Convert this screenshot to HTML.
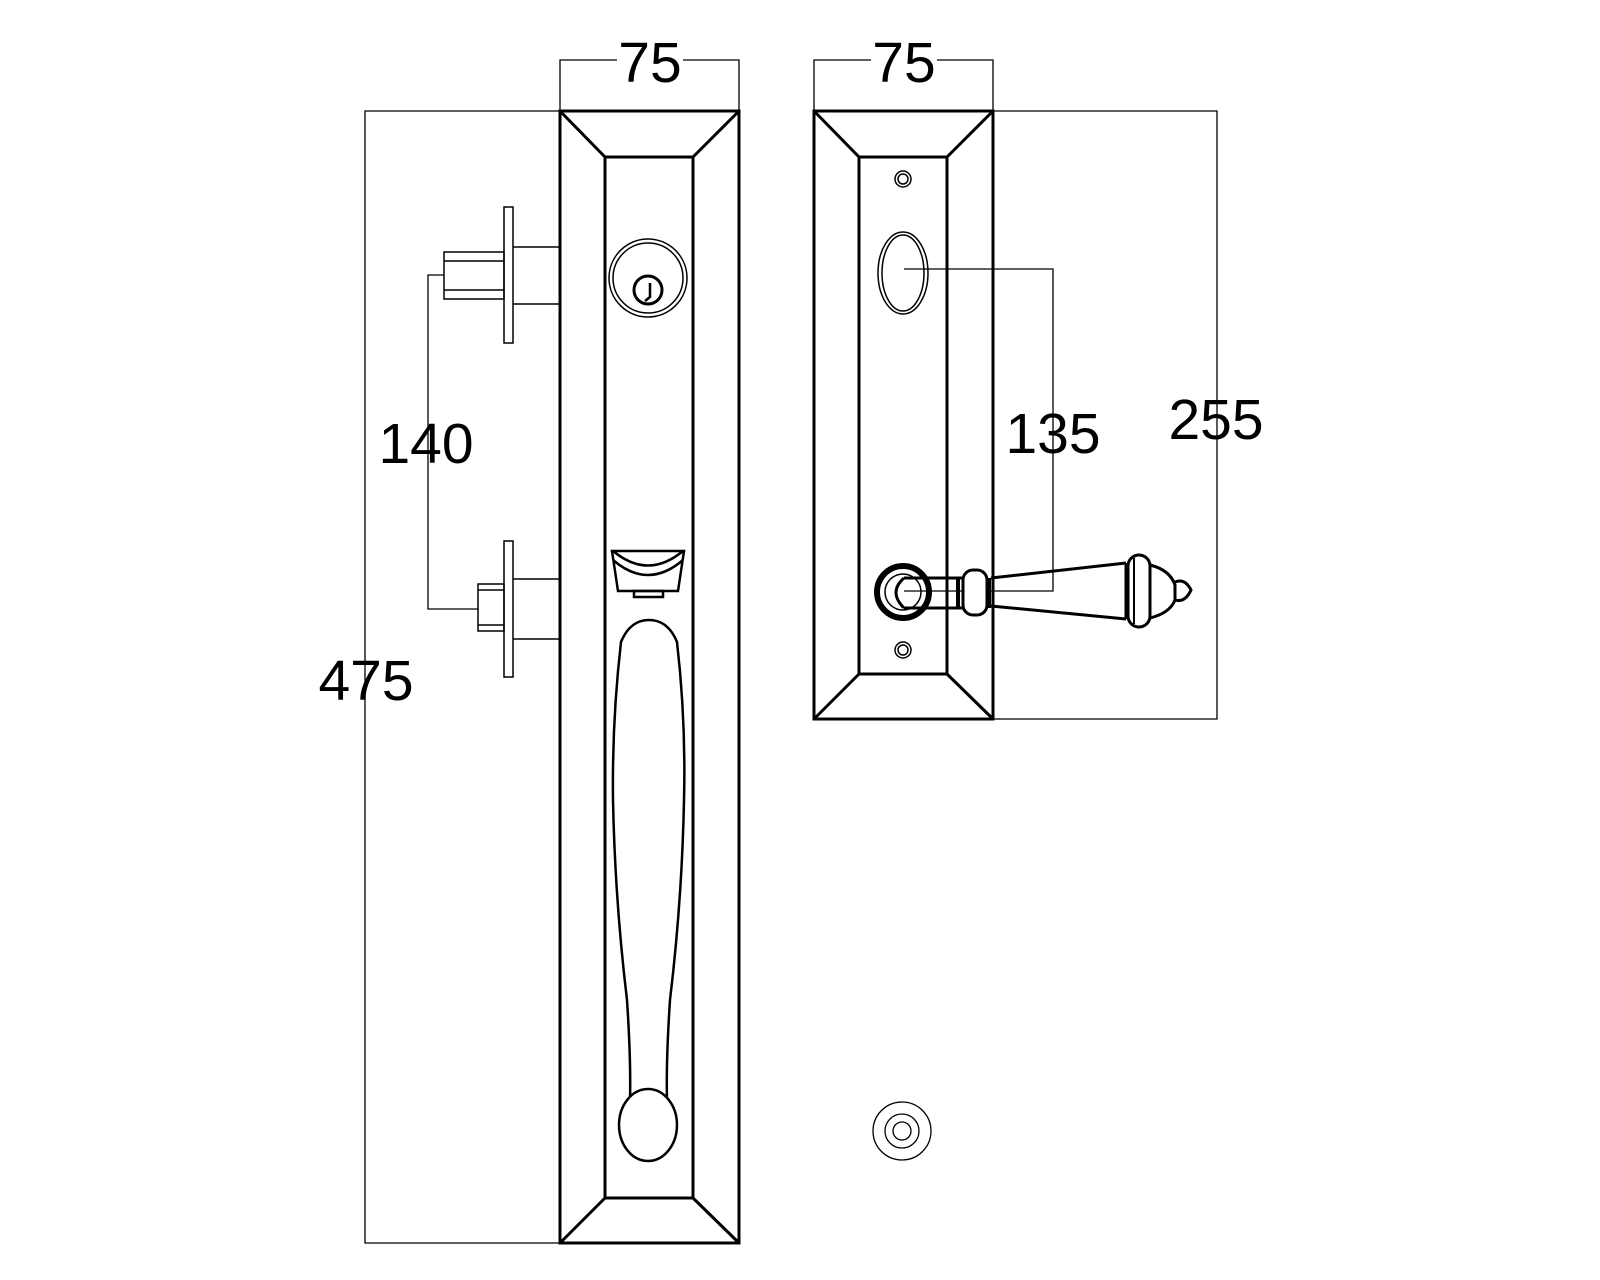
<!DOCTYPE html>
<html><head><meta charset="utf-8"><style>
html,body{margin:0;padding:0;background:#fff;}
svg{display:block;}
text{font-family:"Liberation Sans",sans-serif;fill:#000;}
</style></head><body>
<svg width="1600" height="1280" viewBox="0 0 1600 1280" xmlns="http://www.w3.org/2000/svg">
<g fill="none" stroke="#000">
<!-- dimension lines (thin) -->
<g stroke-width="1.3">
<polyline points="560,111 560,60 739,60 739,111"/>
<polyline points="814,111 814,60 993,60 993,111"/>
<polyline points="560,111 365,111 365,1243 560,1243"/>
<polyline points="993,111 1217,111 1217,719 993,719"/>
<polyline points="444,275 428,275 428,609 478,609"/>
<polyline points="904,269 1053,269 1053,591 904,591"/>
</g>
<!-- left plate -->
<g stroke-width="3">
<rect x="560" y="111" width="179" height="1132"/>
<rect x="605" y="157" width="88" height="1041"/>
<line x1="560" y1="111" x2="605" y2="157"/>
<line x1="739" y1="111" x2="693" y2="157"/>
<line x1="560" y1="1243" x2="605" y2="1198"/>
<line x1="739" y1="1243" x2="693" y2="1198"/>
</g>
<!-- right plate -->
<g stroke-width="3">
<rect x="814" y="111" width="179" height="608"/>
<rect x="859" y="157" width="88" height="517"/>
<line x1="814" y1="111" x2="859" y2="157"/>
<line x1="993" y1="111" x2="947" y2="157"/>
<line x1="814" y1="719" x2="859" y2="674"/>
<line x1="993" y1="719" x2="947" y2="674"/>
</g>
<!-- bolts -->
<g stroke-width="1.5">
<rect x="504" y="207" width="9" height="136"/>
<polyline points="513,247 560,247"/><polyline points="513,304 560,304"/>
<rect x="444" y="252" width="60" height="47"/>
<line x1="444" y1="261" x2="504" y2="261"/><line x1="444" y1="290" x2="504" y2="290"/>
<rect x="504" y="541" width="9" height="136"/>
<polyline points="513,579 559,579"/><polyline points="513,639 559,639"/>
<rect x="478" y="584" width="26" height="47"/>
<line x1="478" y1="590" x2="504" y2="590"/><line x1="478" y1="625" x2="504" y2="625"/>
</g>
<!-- cylinder -->
<circle cx="648" cy="278" r="39" stroke-width="1.5"/>
<circle cx="648" cy="278" r="35" stroke-width="1.5"/>
<circle cx="648" cy="290" r="14" stroke-width="3"/>
<path d="M650,283 L650,297 L645,301" stroke-width="2.5"/>
<!-- thumb piece -->
<g stroke-width="2.5">
<path d="M612,551 L684,551 L678,591 L618,591 Z"/>
<path d="M613,560 Q648,590 683,560"/>
<path d="M613,551 Q648,580 683,551"/>
<rect x="634" y="591" width="29" height="6"/>
</g>
<!-- handle -->
<path d="M621,642 Q630,620 649,620 Q668,620 677,642 Q686,720 684,800 Q682,900 670,1000 Q666,1060 667,1100 L630,1100 Q631,1060 627,1000 Q615,900 613,800 Q612,720 621,642 Z" stroke-width="2.5"/>
<ellipse cx="648" cy="1125" rx="29" ry="36" stroke-width="2.5" fill="#fff"/>
<!-- right plate details -->
<circle cx="903" cy="179" r="8" stroke-width="1.5"/><circle cx="903" cy="179" r="5" stroke-width="1.5"/>
<circle cx="903" cy="650" r="8" stroke-width="1.5"/><circle cx="903" cy="650" r="5" stroke-width="1.5"/>
<ellipse cx="903" cy="273" rx="25" ry="41" stroke-width="1.5"/>
<ellipse cx="903" cy="273" rx="21" ry="38" stroke-width="1.5"/>
<!-- lever -->
<circle cx="903" cy="592" r="26" stroke-width="6"/>
<circle cx="903" cy="592" r="18" stroke-width="1.5"/>
<path d="M934,578 L968,578 M934,608 L968,608 M904,578 Q888,592 904,608" stroke-width="3"/>
<line x1="904" y1="578" x2="934" y2="578" stroke-width="3"/>
<line x1="904" y1="608" x2="934" y2="608" stroke-width="3"/>
<rect x="963" y="570" width="24" height="45" rx="10" stroke-width="3" fill="#fff"/>
<line x1="958" y1="578" x2="958" y2="608" stroke-width="4"/>
<line x1="989" y1="578" x2="989" y2="608" stroke-width="4"/>
<path d="M991,578 L1126,563 M991,606 L1126,619" stroke-width="3"/>
<rect x="1128" y="555" width="22" height="72" rx="11" stroke-width="3" fill="#fff"/>
<line x1="1126" y1="563" x2="1126" y2="619" stroke-width="3"/>
<line x1="1134" y1="558" x2="1134" y2="624" stroke-width="2"/>
<path d="M1150,565 Q1170,570 1175,585 L1175,600 Q1170,613 1150,618" stroke-width="3"/>
<path d="M1175,582 Q1185,578 1191,590 Q1185,603 1175,600" stroke-width="3"/>
<!-- rosette -->
<circle cx="902" cy="1131" r="29" stroke-width="1.3"/>
<circle cx="902" cy="1131" r="17" stroke-width="1.3"/>
<circle cx="902" cy="1131" r="9" stroke-width="1.3"/>
</g>
<!-- labels -->
<g font-size="57" text-anchor="middle">
<rect x="617" y="30" width="66" height="55" fill="#fff"/>
<text x="650" y="82">75</text>
<rect x="871" y="30" width="66" height="55" fill="#fff"/>
<text x="904" y="82">75</text>
<text x="426" y="463">140</text>
<text x="366" y="700">475</text>
<text x="1053" y="453">135</text>
<text x="1216" y="439">255</text>
</g>
</svg>
</body></html>
